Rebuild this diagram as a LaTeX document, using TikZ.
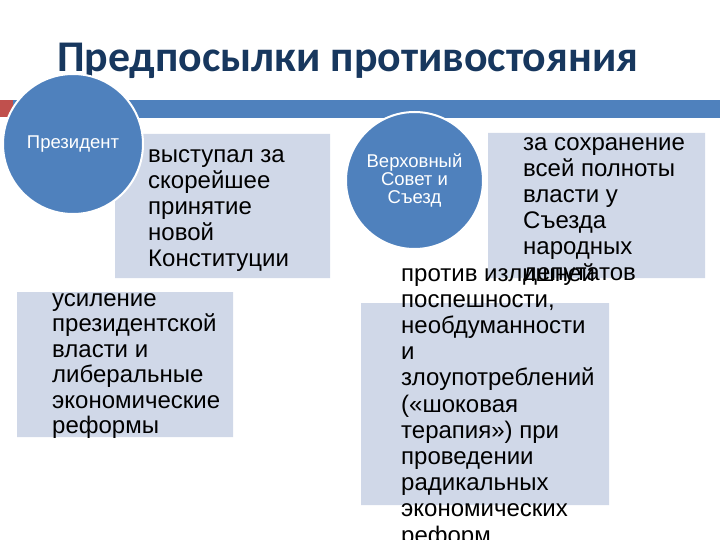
\documentclass[tikz,border=0pt]{standalone}
\usepackage{fontspec}
\setmainfont{Liberation Sans}
\newfontfamily\titlefont{Carlito}
\definecolor{titleblue}{RGB}{23,55,94}
\definecolor{barblue}{RGB}{79,129,189}
\definecolor{barred}{RGB}{192,80,77}
\definecolor{boxgray}{RGB}{208,216,232}
\begin{document}
\begin{tikzpicture}[x=1pt,y=-1pt,
	circ/.style={circle,fill=barblue,draw=white,line width=2pt,text=white,align=center,inner sep=0pt,font=\fontsize{18.5}{18}\selectfont},
	txt/.style={anchor=north west,inner sep=0pt,align=left,font=\fontsize{24}{26}\selectfont}]
	\useasboundingbox (0,0) rectangle (720,540);
	\fill[white] (0,0) rectangle (720,540);
	\node[anchor=base west,inner sep=0pt,text=titleblue,font=\titlefont\bfseries\fontsize{43.8}{44}\selectfont] (title) at (57,72) {Предпосылки противостояния};
	% bar under the title
	\fill[barred] (0,100) rectangle (13,117);
	\fill[barblue] (13,100) rectangle (720,118);
	% boxes
	\fill[boxgray] (115,134) rectangle (330,278) (17,292) rectangle (233,437) (488,133) rectangle (705,278) (361,303) rectangle (609,505);
	\node[circ,minimum size=140pt] (pres) at (73,144) {Президент};
	\node[circ,minimum size=137pt] (sovet) at (414.5,180.5) {Верховный\\Совет и\\Съезд};
	\node[txt] (konst) at (148,143.8) {\strut выступал за\\скорейшее\\принятие\\новой\\Конституции};
	\node[txt,font=\fontsize{24}{25.5}\selectfont] (reform) at (52,288.2) {\strut усиление\\президентской\\власти и\\либеральные\\экономические\\реформы};
	\node[txt] (sezd) at (523,131.8) {\strut за сохранение\\всей полноты\\власти у\\Съезда\\народных\\депутатов};
	\node[txt,font=\fontsize{24}{26.2}\selectfont] (protiv) at (401,262.6) {\strut против излишней\\поспешности,\\необдуманности\\и\\злоупотреблений\\(«шоковая\\терапия») при\\проведении\\радикальных\\экономических\\реформ};
\end{tikzpicture}
\end{document}
